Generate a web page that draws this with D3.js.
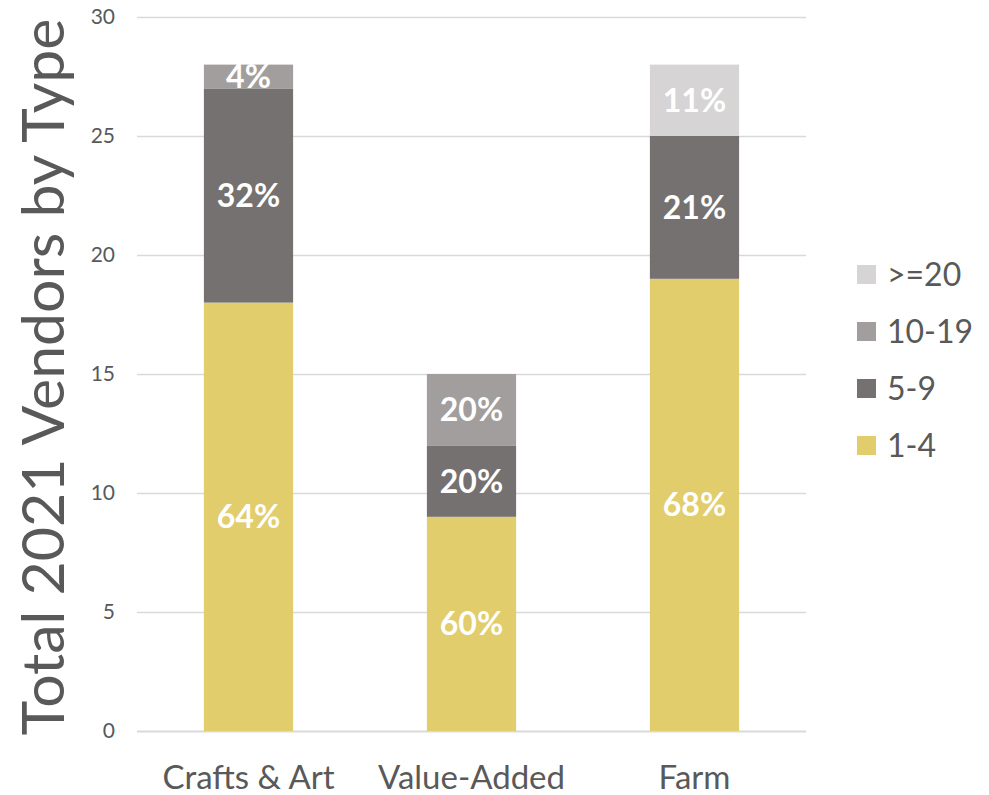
<!DOCTYPE html>
<html>
<head>
<meta charset="utf-8">
<script src="https://cdn.jsdelivr.net/npm/d3@7"></script>
<style>
  html, body { margin: 0; padding: 0; background: #ffffff; }
  svg { display: block; font-family: Lato, "Open Sans", sans-serif; }
</style>
</head>
<body>
<svg id="chart" width="989" height="795"></svg>
<script>
// Vendor counts by business type, stacked by size group
const categories = ["Crafts & Art", "Value-Added", "Farm"];
const groups = ["1-4", "5-9", "10-19", ">=20"];
const size1to4 = [18, 9, 19];
const size5to9 = [9, 3, 6];
const size10to19 = [1, 3, 0];
const size20plus = [0, 0, 3];
const yTicks = [0, 5, 10, 15, 20, 25, 30];
const colors = ["#E2CD6D", "#757170", "#A29E9D", "#D6D4D5"];

const rows = categories.map((c, i) => ({
  category: c,
  "1-4": size1to4[i],
  "5-9": size5to9[i],
  "10-19": size10to19[i],
  ">=20": size20plus[i]
}));

const svg = d3.select("#chart");
const margin = { left: 137, right: 183, top: 17, bottom: 64 };
const W = 989, H = 795;

const x = d3.scaleBand()
  .domain(categories)
  .range([margin.left, W - margin.right])
  .paddingInner(0.6)
  .paddingOuter(0.3);

const y = d3.scaleLinear()
  .domain([0, 30])
  .range([H - margin.bottom, margin.top]);

const color = d3.scaleOrdinal().domain(groups).range(colors);

// Gridlines
svg.append("g")
  .selectAll("line")
  .data(yTicks)
  .join("line")
  .attr("x1", margin.left)
  .attr("x2", W - margin.right)
  .attr("y1", d => Math.round(y(d)) + 0.5)
  .attr("y2", d => Math.round(y(d)) + 0.5)
  .attr("stroke", "#D9D9D9")
  .attr("stroke-width", d => d === 0 ? 2 : 1.5);

// Y axis tick labels
const yAxis = d3.axisLeft(y).tickValues(yTicks).tickSize(0).tickPadding(22);
const gy = svg.append("g")
  .attr("transform", `translate(${margin.left},0)`)
  .call(yAxis);
gy.select(".domain").remove();
gy.selectAll("text")
  .attr("fill", "#595959")
  .style("font-size", "21px")
  .style("font-family", "Lato, sans-serif");

// X axis category labels
const xAxis = d3.axisBottom(x).tickSize(0);
const gx = svg.append("g")
  .attr("transform", `translate(0,${H - margin.bottom})`)
  .call(xAxis);
gx.select(".domain").remove();
gx.selectAll("text")
  .attr("y", 58)
  .attr("dy", null)
  .attr("fill", "#595959")
  .style("font-size", "33px")
  .style("font-family", "Lato, sans-serif");

// Stacked bars
const stack = d3.stack().keys(groups);
const series = stack(rows);

const layer = svg.append("g")
  .selectAll("g")
  .data(series)
  .join("g")
  .attr("fill", d => color(d.key));

layer.selectAll("rect")
  .data(d => d.map(v => ({ key: d.key, v })))
  .join("rect")
  .attr("x", d => x(d.v.data.category))
  .attr("width", x.bandwidth())
  .attr("y", d => y(d.v[1]))
  .attr("height", d => y(d.v[0]) - y(d.v[1]));

// Percentage labels inside segments
const labels = [];
series.forEach(s => {
  s.forEach(v => {
    const val = v[1] - v[0];
    if (val > 0) {
      const total = groups.reduce((a, k) => a + v.data[k], 0);
      labels.push({ cat: v.data.category, mid: (v[0] + v[1]) / 2, pct: Math.round(val / total * 100) });
    }
  });
});

svg.append("g")
  .selectAll("text")
  .data(labels)
  .join("text")
  .attr("x", d => x(d.cat) + x.bandwidth() / 2)
  .attr("y", d => y(d.mid))
  .attr("dy", "0.36em")
  .attr("text-anchor", "middle")
  .attr("fill", "#ffffff")
  .style("font-size", "32px")
  .style("font-weight", "bold")
  .text(d => d.pct + "%");

// Y axis title
svg.append("text")
  .attr("transform", `translate(64,${(H - margin.bottom + margin.top) / 2 + 3}) rotate(-90)`)
  .attr("text-anchor", "middle")
  .attr("fill", "#595959")
  .style("font-size", "59px")
  .text("Total 2021 Vendors by Type");

// Legend (top to bottom: >=20, 10-19, 5-9, 1-4)
const legendItems = groups.slice().reverse();
const lg = svg.append("g")
  .selectAll("g")
  .data(legendItems)
  .join("g")
  .attr("transform", (d, i) => `translate(857,${274 + i * 57})`);

lg.append("rect")
  .attr("x", 0)
  .attr("y", -9)
  .attr("width", 19)
  .attr("height", 19)
  .attr("fill", d => color(d));

lg.append("text")
  .attr("x", 30)
  .attr("dy", "0.36em")
  .attr("fill", "#595959")
  .style("font-size", "32px")
  .text(d => d);
</script>
</body>
</html>
